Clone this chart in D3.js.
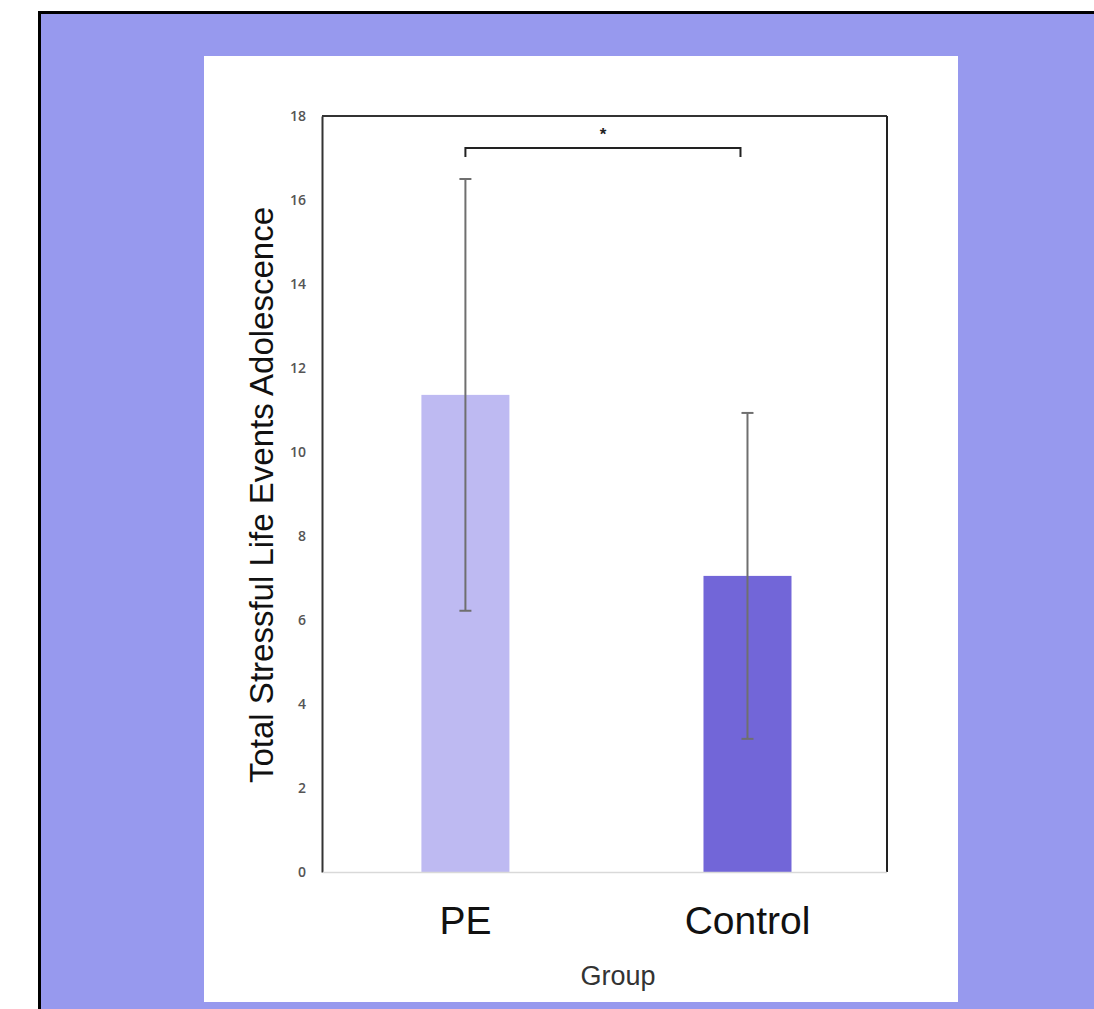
<!DOCTYPE html>
<html>
<head>
<meta charset="utf-8">
<script src="https://cdn.jsdelivr.net/npm/d3@7"></script>
<style>
  body { margin: 0; background: #fff; }
</style>
</head>
<body>
<div id="chart"></div>
<script>
// data
var groups = ["PE", "Control"];
var means = [11.36, 7.05];
var errors = [5.14, 3.88];
var barColors = ["#bebaf2", "#7266d8"];
var yTicks = [0, 2, 4, 6, 8, 10, 12, 14, 16, 18];

// plot area inside the white card
var margin = {top: 116, left: 322},
    width = 887 - 322,
    height = 872 - 116;

var svg = d3.select("#chart")
  .append("svg")
    .attr("width", 1094)
    .attr("height", 1009);

// purple slide with black border, white card
svg.append("rect")
  .attr("x", 39.5).attr("y", 12.5)
  .attr("width", 1100).attr("height", 1100)
  .attr("fill", "#9799ee")
  .attr("stroke", "#000")
  .attr("stroke-width", 3);
svg.append("rect")
  .attr("x", 204).attr("y", 56)
  .attr("width", 754).attr("height", 946)
  .attr("fill", "#fff");

var g = svg.append("g")
  .attr("transform", "translate(" + margin.left + "," + margin.top + ")");

var x = d3.scaleBand()
  .domain(groups)
  .range([0, width])
  .paddingInner(0.688)
  .paddingOuter(0.3455)
  .align(0.51);

var y = d3.scaleLinear()
  .domain([0, 18])
  .range([height, 0]);

// bars
g.selectAll("rect.bar")
  .data(groups)
  .enter()
  .append("rect")
    .attr("class", "bar")
    .attr("x", function(d) { return x(d); })
    .attr("y", function(d, i) { return y(means[i]); })
    .attr("width", x.bandwidth())
    .attr("height", function(d, i) { return height - y(means[i]); })
    .attr("fill", function(d, i) { return barColors[i]; });

// error bars
var eb = g.selectAll("g.err")
  .data(groups)
  .enter()
  .append("g")
    .attr("class", "err")
    .attr("stroke", "#6f6f6f")
    .attr("stroke-width", 2);
eb.append("line")
  .attr("x1", function(d) { return x(d) + x.bandwidth() / 2; })
  .attr("x2", function(d) { return x(d) + x.bandwidth() / 2; })
  .attr("y1", function(d, i) { return y(means[i] + errors[i]); })
  .attr("y2", function(d, i) { return y(means[i] - errors[i]); });
eb.selectAll("line.cap")
  .data(function(d, i) { return [[d, means[i] + errors[i]], [d, means[i] - errors[i]]]; })
  .enter()
  .append("line")
    .attr("class", "cap")
    .attr("x1", function(d) { return x(d[0]) + x.bandwidth() / 2 - 6; })
    .attr("x2", function(d) { return x(d[0]) + x.bandwidth() / 2 + 6; })
    .attr("y1", function(d) { return y(d[1]); })
    .attr("y2", function(d) { return y(d[1]); });

// y axis
var yAxis = g.append("g")
  .call(d3.axisLeft(y).tickValues(yTicks).tickSize(0).tickPadding(16));
yAxis.select(".domain").attr("stroke", "#333").attr("stroke-width", 2);
yAxis.selectAll("text")
  .attr("fill", "#555")
  .style("font-family", "'Open Sans', sans-serif")
  .style("font-size", "14px")
  .style("font-weight", 600);

// frame: top and right dark, bottom light gray
g.append("line").attr("x1", 0).attr("x2", width).attr("y1", 0).attr("y2", 0)
  .attr("stroke", "#333").attr("stroke-width", 2);
g.append("line").attr("x1", width).attr("x2", width).attr("y1", 0).attr("y2", height)
  .attr("stroke", "#222").attr("stroke-width", 2);
g.append("line").attr("x1", 1).attr("x2", width).attr("y1", height + 0.5).attr("y2", height + 0.5)
  .attr("stroke", "#d9d9d9").attr("stroke-width", 1.5);

// x axis labels
g.append("g")
  .attr("transform", "translate(0," + height + ")")
  .call(d3.axisBottom(x).tickSize(0).tickPadding(34))
  .call(function(a) { a.select(".domain").remove(); })
  .selectAll("text")
    .attr("fill", "#111")
    .style("font-family", "'Liberation Sans', Arial, sans-serif")
    .style("font-size", "39px");

// significance bracket
var bx1 = x("PE") + x.bandwidth() / 2,
    bx2 = x("Control") + x.bandwidth() / 2 - 7,
    by = y(17.24);
g.append("path")
  .attr("d", "M" + bx1 + "," + (by + 9) + "V" + by + "H" + bx2 + "V" + (by + 9))
  .attr("fill", "none")
  .attr("stroke", "#222")
  .attr("stroke-width", 2);
g.append("text")
  .attr("x", (bx1 + bx2) / 2)
  .attr("y", by - 8)
  .attr("text-anchor", "middle")
  .style("font-family", "'Liberation Sans', Arial, sans-serif")
  .style("font-size", "17px")
  .style("font-weight", "bold")
  .attr("fill", "#222")
  .text("*");

// axis titles
svg.append("text")
  .attr("transform", "translate(273," + 495 + ") rotate(-90)")
  .attr("text-anchor", "middle")
  .style("font-family", "'Liberation Sans', Arial, sans-serif")
  .style("font-size", "33px")
  .attr("fill", "#111")
  .text("Total Stressful Life Events Adolescence");

svg.append("text")
  .attr("x", 618)
  .attr("y", 985)
  .attr("text-anchor", "middle")
  .style("font-family", "'Liberation Sans', Arial, sans-serif")
  .style("font-size", "27px")
  .attr("fill", "#333")
  .text("Group");
</script>
</body>
</html>
